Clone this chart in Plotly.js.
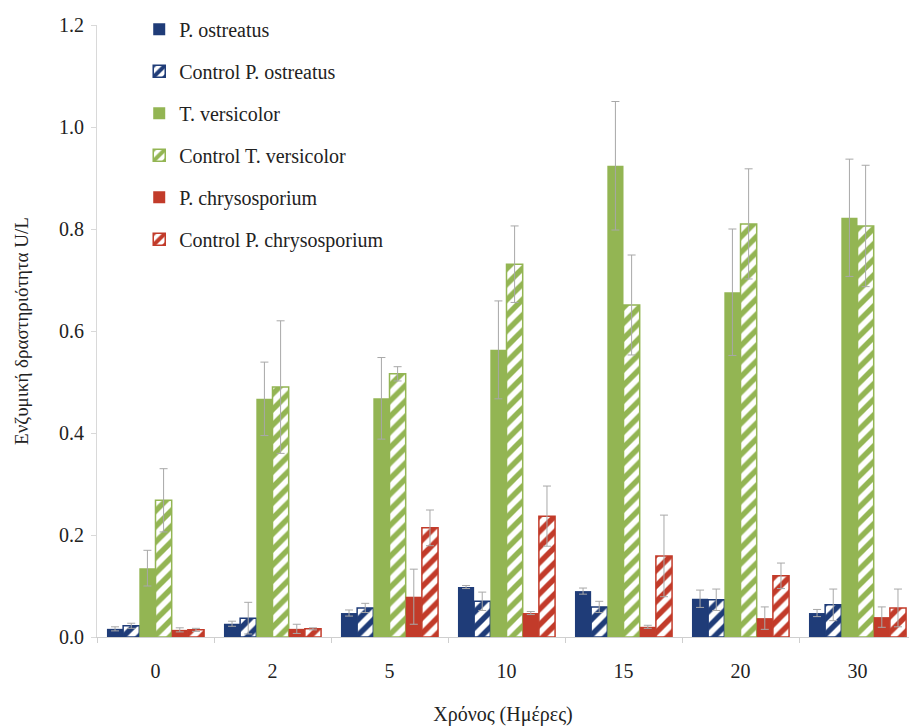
<!DOCTYPE html>
<html>
<head>
<meta charset="utf-8">
<script src="https://cdn.plot.ly/plotly-3.0.1.min.js"></script>
<style>
html,body{margin:0;padding:0;background:#fff;}
#chart{width:909px;height:726px;}
</style>
</head>
<body>
<div id="chart"></div>
<script>
const days = ["0", "2", "5", "10", "15", "20", "30"];
const seriesNames = ["P. ostreatus", "Control P. ostreatus", "T. versicolor", "Control T. versicolor", "P. chrysosporium", "Control P. chrysosporium"];
const pOstreatus = [0.016, 0.026, 0.047, 0.098, 0.090, 0.075, 0.047];
const ctrlPOstreatus = [0.022, 0.037, 0.057, 0.070, 0.059, 0.073, 0.063];
const tVersicolor = [0.135, 0.467, 0.468, 0.563, 0.924, 0.676, 0.822];
const ctrlTVersicolor = [0.268, 0.490, 0.516, 0.731, 0.651, 0.810, 0.806];
const pChrysosporium = [0.014, 0.016, 0.079, 0.047, 0.020, 0.037, 0.039];
const ctrlPChrysosporium = [0.014, 0.016, 0.214, 0.237, 0.159, 0.120, 0.057];
const errPOstreatus = [0.004, 0.005, 0.006, 0.003, 0.006, 0.017, 0.007];
const errCtrlPOstreatus = [0.005, 0.031, 0.009, 0.018, 0.011, 0.021, 0.031];
const errTVersicolor = [0.035, 0.072, 0.080, 0.096, 0.126, 0.124, 0.115];
const errCtrlTVersicolor = [0.062, 0.130, 0.014, 0.075, 0.098, 0.108, 0.119];
const errPChrysosporium = [0.004, 0.009, 0.054, 0.003, 0.003, 0.022, 0.020];
const errCtrlPChrysosporium = [0.003, 0.002, 0.035, 0.059, 0.080, 0.025, 0.037];

const navy = "#1f3c78", green = "#93b553", red = "#c23b2a";
const values = [pOstreatus, ctrlPOstreatus, tVersicolor, ctrlTVersicolor, pChrysosporium, ctrlPChrysosporium];
const errs = [errPOstreatus, errCtrlPOstreatus, errTVersicolor, errCtrlTVersicolor, errPChrysosporium, errCtrlPChrysosporium];
const colors = [navy, navy, green, green, red, red];

const traces = values.map((v, i) => {
  const ctrl = i % 2 === 1;
  const marker = ctrl ? {
    color: "#ffffff",
    line: {color: colors[i], width: 1.5},
    pattern: {shape: "/", fgcolor: colors[i], bgcolor: "#ffffff", fgopacity: 1, size: 11, solidity: 0.5, fillmode: "replace"}
  } : {color: colors[i], line: {width: 0}};
  return {
    type: "bar", name: seriesNames[i], x: days, y: v,
    legendgroup: "g" + i,
    marker: marker,
    error_y: {type: "data", array: errs[i], visible: true, color: "#a8a8a8", thickness: 1, width: 4}
  };
});

const font = "Liberation Serif";
const layout = {
  width: 909, height: 726,
  margin: {l: 97, r: 0, t: 25, b: 89},
  paper_bgcolor: "#ffffff", plot_bgcolor: "#ffffff",
  barmode: "group", bargap: 0.17, bargroupgap: 0,
  font: {family: font, size: 20, color: "#222"},
  showlegend: true,
  legend: {x: 0.052, y: 1.025, xanchor: "left", yanchor: "top", bgcolor: "rgba(0,0,0,0)",
           font: {family: font, size: 20, color: "#222"}, tracegroupgap: 13, traceorder: "grouped"},
  xaxis: {
    type: "category", range: [-0.5, 6.44], showline: true, linecolor: "#cfcfcf", linewidth: 1,
    ticks: "outside", tickson: "boundaries", ticklen: 5, tickcolor: "#cfcfcf",
    showgrid: false, zeroline: false, ticklabelstandoff: 16,
    tickfont: {family: font, size: 20, color: "#222"},
    title: {text: "Χρόνος (Ημέρες)", font: {family: font, size: 20, color: "#222"}, standoff: 26}
  },
  yaxis: {
    range: [0, 1.2], dtick: 0.2, tickformat: ".1f", showline: true, linecolor: "#d9d9d9", linewidth: 1,
    ticks: "outside", ticklen: 5, tickcolor: "#d9d9d9", showgrid: false, zeroline: false,
    ticklabelstandoff: 3,
    tickfont: {family: font, size: 20, color: "#222"},
    title: {text: "Ενζυμική δραστηριότητα U/L", font: {family: font, size: 19, color: "#222"}, standoff: 25}
  }
};
Plotly.newPlot("chart", traces, layout, {displayModeBar: false, staticPlot: true});
</script>
</body>
</html>
